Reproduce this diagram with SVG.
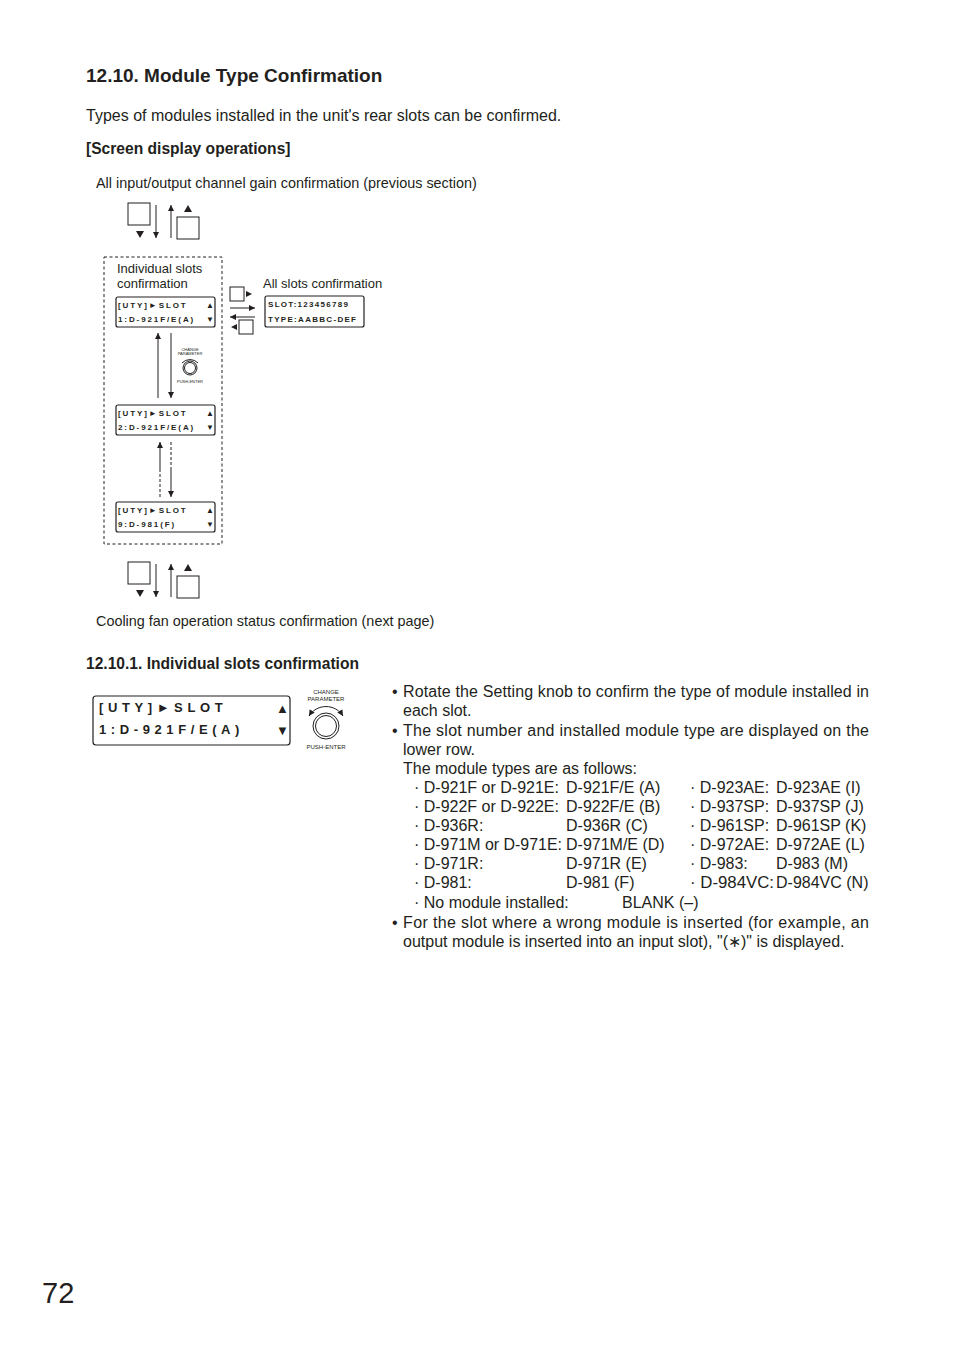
<svg xmlns="http://www.w3.org/2000/svg" width="954" height="1351" viewBox="0 0 954 1351">
<style>
text{font-family:"Liberation Sans",Arial,sans-serif;fill:#231f20}
.b{font-weight:bold}
.lcd{fill:#fff;stroke:#231f20;stroke-width:1.2}
.sq{fill:#fff;stroke:#231f20;stroke-width:1}
.ln{stroke:#231f20;stroke-width:1;fill:none}
.m{font-weight:bold;font-size:8px;letter-spacing:1.9px}
.mb{font-weight:bold;font-size:13px;letter-spacing:4.6px}
.t{font-size:16px}
.s{font-size:14.4px}
.tiny{font-size:4px}
</style>
<defs>
<marker id="ah" viewBox="0 0 6 8" refX="6" refY="4" markerWidth="6" markerHeight="8" markerUnits="userSpaceOnUse" orient="auto-start-reverse"><path d="M0,1 L6,4 L0,7z" fill="#231f20"/></marker>
<g id="knobS"><path d="M-8,-5 A11,11 0 0 1 8,-5" class="ln" stroke-width="1.5"/><circle r="7" class="ln" stroke-width="1.5"/><circle r="5.5" class="ln" stroke-width="0.6"/></g>
</defs>
<text x="86" y="82" class="b" font-size="19">12.10. Module Type Confirmation</text>
<text x="86" y="121" class="t">Types of modules installed in the unit's rear slots can be confirmed.</text>
<text x="86" y="154" class="b" font-size="15.6">[Screen display operations]</text>
<text x="96" y="188" class="s">All input/output channel gain confirmation (previous section)</text>

<g id="keys-top">
<rect x="128" y="203" width="22" height="22" class="sq"/><path d="M136,231 h8 l-4,7z" fill="#231f20"/>
<rect x="177" y="217" width="22" height="22" class="sq"/><path d="M184,212 h8 l-4,-7z" fill="#231f20"/>
</g>
<g id="keys-bottom">
<rect x="128" y="562" width="22" height="22" class="sq"/><path d="M136,590 h8 l-4,7z" fill="#231f20"/>
<rect x="177" y="576" width="22" height="22" class="sq"/><path d="M184,571 h8 l-4,-7z" fill="#231f20"/>
</g>
<g id="keys-side">
<rect x="230" y="287" width="14" height="14" class="sq"/><path d="M246,291 v6 l6,-3z" fill="#231f20"/>
<rect x="239" y="320" width="14" height="14" class="sq"/><path d="M237,324 v6 l-6,-3z" fill="#231f20"/>
</g>

<g id="group-individual">
<rect x="104" y="257" width="118" height="287" fill="none" stroke="#231f20" stroke-dasharray="3,2.5"/>
<text x="117" y="273" font-size="13">Individual slots</text>
<text x="117" y="288" font-size="13">confirmation</text>
</g>

<g id="lcd1"><rect x="116" y="297" width="99" height="30" rx="2" class="lcd"/>
<text x="118" y="308" class="m">[UTY]►SLOT</text><text x="118" y="322" class="m">1:D-921F/E(A)</text>
<text x="206" y="308" font-size="8">▲</text><text x="206" y="322" font-size="8">▼</text></g>
<g id="lcd2"><rect x="116" y="405" width="99" height="30" rx="2" class="lcd"/>
<text x="118" y="416" class="m">[UTY]►SLOT</text><text x="118" y="430" class="m">2:D-921F/E(A)</text>
<text x="206" y="416" font-size="8">▲</text><text x="206" y="430" font-size="8">▼</text></g>
<g id="lcd9"><rect x="116" y="502" width="99" height="30" rx="2" class="lcd"/>
<text x="118" y="513" class="m">[UTY]►SLOT</text><text x="118" y="527" class="m">9:D-981(F)</text>
<text x="206" y="513" font-size="8">▲</text><text x="206" y="527" font-size="8">▼</text></g>
<g id="lcd-all"><rect x="265" y="296" width="99" height="31" rx="2" class="lcd"/>
<text x="268" y="307" class="m" style="letter-spacing:1.3px">SLOT:123456789</text><text x="268" y="322" class="m" style="letter-spacing:1.3px">TYPE:AABBC-DEF</text></g>
<text x="263" y="288" font-size="13">All slots confirmation</text>

<g id="knob1" transform="translate(190,368)">
<use href="#knobS"/>
<text x="0" y="-17" class="tiny" text-anchor="middle">CHANGE</text>
<text x="0" y="-13" class="tiny" text-anchor="middle">PARAMETER</text>
<text x="0" y="15" class="tiny" text-anchor="middle">PUSH-ENTER</text>
</g>

<g id="connectors">
<line x1="156" y1="205" x2="156" y2="238" class="ln" marker-end="url(#ah)"/>
<line x1="171" y1="238" x2="171" y2="205" class="ln" marker-end="url(#ah)"/>
<line x1="156" y1="564" x2="156" y2="597" class="ln" marker-end="url(#ah)"/>
<line x1="171" y1="597" x2="171" y2="564" class="ln" marker-end="url(#ah)"/>
<line x1="230" y1="308" x2="255" y2="308" class="ln" marker-end="url(#ah)"/>
<line x1="255" y1="317" x2="230" y2="317" class="ln" marker-end="url(#ah)"/>
<line x1="158" y1="398" x2="158" y2="333" class="ln" stroke-width="1.6" marker-end="url(#ah)"/>
<line x1="171" y1="333" x2="171" y2="398" class="ln" marker-end="url(#ah)"/>
<line x1="160" y1="497" x2="160" y2="470" class="ln" stroke-dasharray="3,2"/>
<line x1="160" y1="470" x2="160" y2="442" class="ln" marker-end="url(#ah)"/>
<line x1="171" y1="442" x2="171" y2="468" class="ln" stroke-dasharray="3,2"/>
<line x1="171" y1="468" x2="171" y2="497" class="ln" marker-end="url(#ah)"/>
</g>

<text x="96" y="626" class="s">Cooling fan operation status confirmation (next page)</text>
<text x="86" y="669" class="b" font-size="15.6">12.10.1. Individual slots confirmation</text>

<g id="lcd-big"><rect x="93" y="696" width="197" height="49" rx="3" class="lcd"/>
<text x="99" y="712" class="mb">[UTY]►SLOT</text><text x="99" y="734" class="mb">1:D-921F/E(A)</text>
<text x="276" y="713" font-size="13">▲</text><text x="276" y="735" font-size="13">▼</text></g>
<g id="knob2" transform="translate(326,726)">
<path d="M-17,-10 A20,20 0 0 1 17,-10" class="ln" stroke-width="1.3" marker-start="url(#ah)" marker-end="url(#ah)"/>
<circle r="13" class="ln" stroke-width="1.5"/><circle r="10.5" class="ln" stroke-width="0.7"/>
<text x="0" y="-32" font-size="6" text-anchor="middle">CHANGE</text>
<text x="0" y="-25" font-size="6" text-anchor="middle">PARAMETER</text>
<text x="0" y="23" font-size="6" text-anchor="middle">PUSH-ENTER</text>
</g>

<g id="notes">
<text x="392" y="697" class="t">•</text>
<text x="403" y="697" class="t" textLength="466" lengthAdjust="spacing">Rotate the Setting knob to confirm the type of module installed in</text>
<text x="403" y="716" class="t">each slot.</text>
<text x="392" y="736" class="t">•</text>
<text x="403" y="736" class="t" textLength="466" lengthAdjust="spacing">The slot number and installed module type are displayed on the</text>
<text x="403" y="755" class="t">lower row.</text>
<text x="403" y="774" class="t">The module types are as follows:</text>
<text x="414" y="793" class="t">· D-921F or D-921E:</text><text x="566" y="793" class="t">D-921F/E (A)</text>
<text x="414" y="812" class="t">· D-922F or D-922E:</text><text x="566" y="812" class="t">D-922F/E (B)</text>
<text x="414" y="831" class="t">· D-936R:</text><text x="566" y="831" class="t">D-936R (C)</text>
<text x="414" y="850" class="t" textLength="148" lengthAdjust="spacingAndGlyphs">· D-971M or D-971E:</text><text x="566" y="850" class="t">D-971M/E (D)</text>
<text x="414" y="869" class="t">· D-971R:</text><text x="566" y="869" class="t">D-971R (E)</text>
<text x="414" y="888" class="t">· D-981:</text><text x="566" y="888" class="t">D-981 (F)</text>
<text x="414" y="908" class="t">· No module installed:</text><text x="622" y="908" class="t">BLANK (–)</text>
<text x="690" y="793" class="t">· D-923AE:</text><text x="776" y="793" class="t">D-923AE (I)</text>
<text x="690" y="812" class="t">· D-937SP:</text><text x="776" y="812" class="t">D-937SP (J)</text>
<text x="690" y="831" class="t">· D-961SP:</text><text x="776" y="831" class="t">D-961SP (K)</text>
<text x="690" y="850" class="t">· D-972AE:</text><text x="776" y="850" class="t">D-972AE (L)</text>
<text x="690" y="869" class="t">· D-983:</text><text x="776" y="869" class="t">D-983 (M)</text>
<text x="690" y="888" class="t" textLength="84" lengthAdjust="spacingAndGlyphs">· D-984VC:</text><text x="776" y="888" class="t">D-984VC (N)</text>
<text x="392" y="928" class="t">•</text>
<text x="403" y="928" class="t" textLength="466" lengthAdjust="spacing">For the slot where a wrong module is inserted (for example, an</text>
<text x="403" y="947" class="t">output module is inserted into an input slot), "(∗)" is displayed.</text>
</g>
<text x="42" y="1303" font-size="29">72</text>
</svg>
